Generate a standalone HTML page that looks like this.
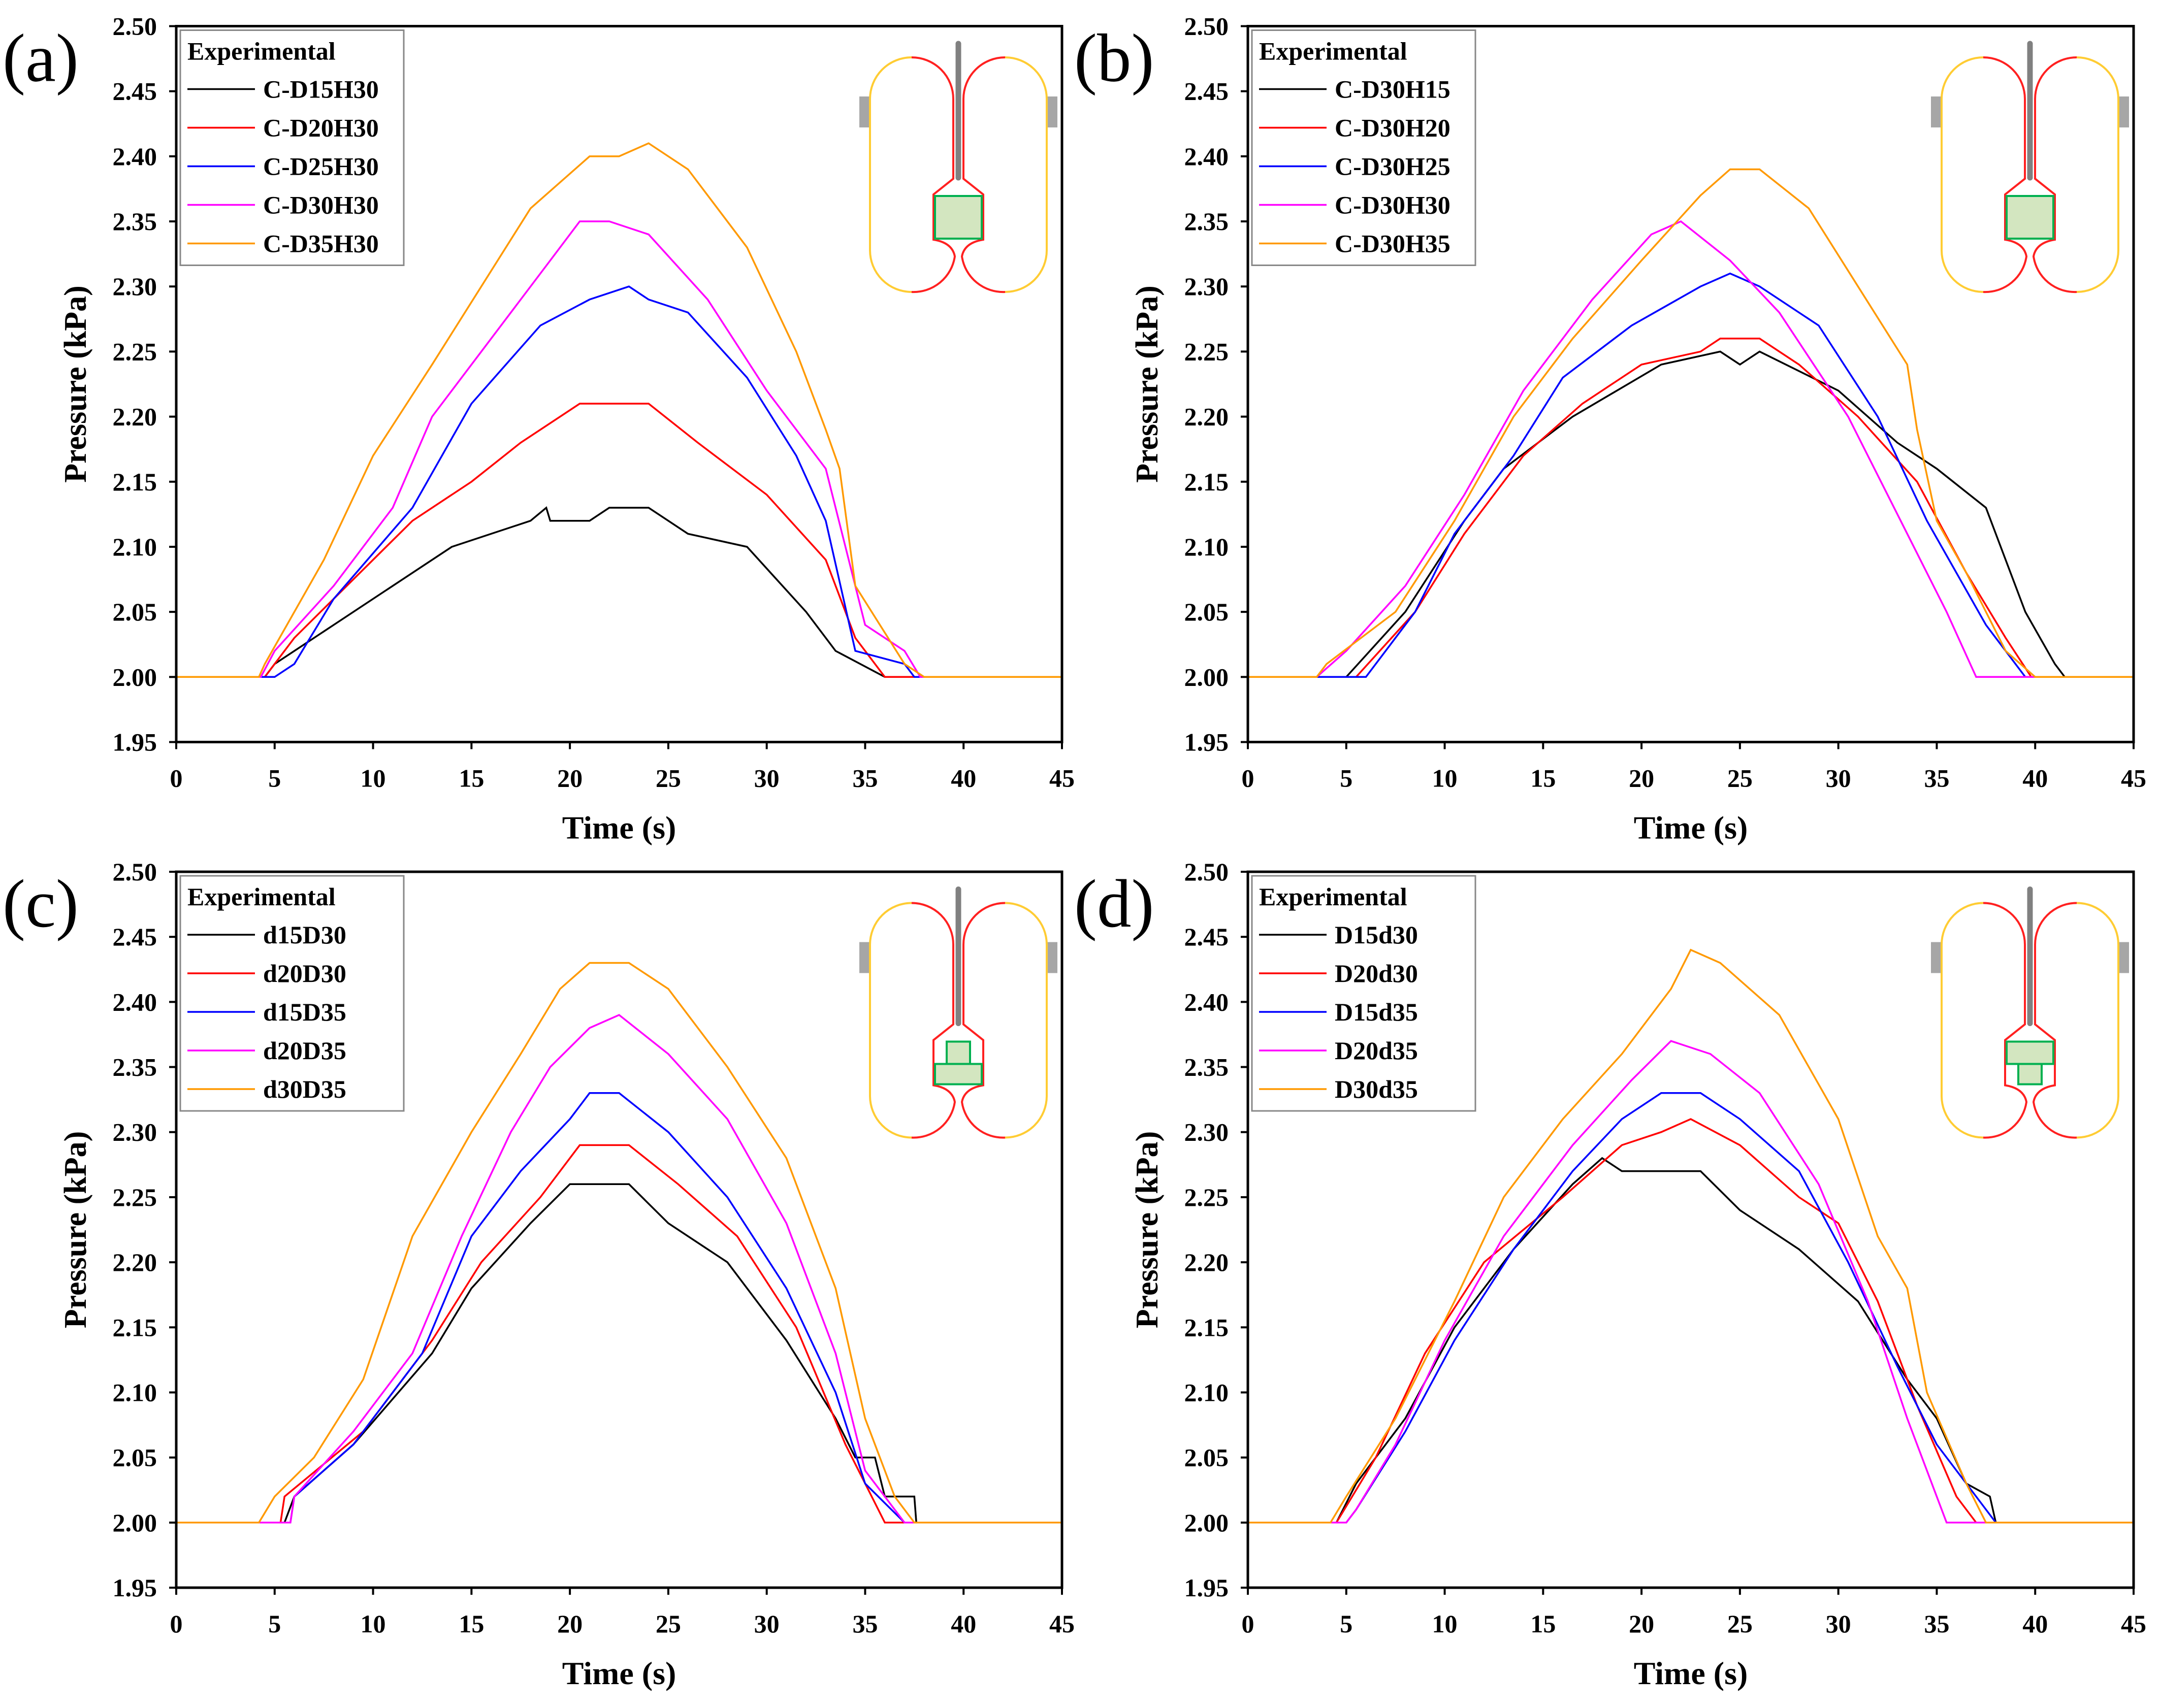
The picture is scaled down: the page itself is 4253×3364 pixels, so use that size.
<!DOCTYPE html>
<html><head><meta charset="utf-8">
<style>
html,body{margin:0;padding:0;background:#fff;}
svg{display:block;font-family:"Liberation Serif","DejaVu Serif",serif;}
</style></head>
<body>
<svg id="fig" width="4253" height="3364" viewBox="0 0 4253 3364" xmlns="http://www.w3.org/2000/svg"></svg>
<script>
const xTicks=[0,5,10,15,20,25,30,35,40,45];
const yTicks=[1.95,2.00,2.05,2.10,2.15,2.20,2.25,2.30,2.35,2.40,2.45,2.50];
const colors=["#000000","#ff0000","#0000ff","#ff00ff","#ff9900"];
const panelLetters=["(a)","(b)","(c)","(d)"];
const namesA=["C-D15H30","C-D20H30","C-D25H30","C-D30H30","C-D35H30"];
const namesB=["C-D30H15","C-D30H20","C-D30H25","C-D30H30","C-D30H35"];
const namesC=["d15D30","d20D30","d15D35","d20D35","d30D35"];
const namesD=["D15d30","D20d30","D15d35","D20d35","D30d35"];
const dataA=[
[[0,2],[4.5,2],[5,2.01],[8,2.04],[14,2.10],[18,2.12],[18.8,2.13],[19,2.12],[21,2.12],[22,2.13],[24,2.13],[26,2.11],[29,2.10],[32,2.05],[33.5,2.02],[36,2.0],[45,2]],
[[0,2],[4.5,2],[6,2.03],[8,2.06],[12,2.12],[15,2.15],[17.5,2.18],[20.5,2.21],[24,2.21],[26.5,2.18],[30,2.14],[33,2.09],[34.5,2.03],[36,2.0],[45,2]],
[[0,2],[5,2],[6,2.01],[8,2.06],[12,2.13],[15,2.21],[18.5,2.27],[21,2.29],[23,2.30],[24,2.29],[26,2.28],[29,2.23],[31.5,2.17],[33,2.12],[34.5,2.02],[37,2.01],[37.5,2],[45,2]],
[[0,2],[4.3,2],[5,2.02],[8,2.07],[11,2.13],[13,2.20],[16,2.26],[19,2.32],[20.5,2.35],[22,2.35],[24,2.34],[27,2.29],[30,2.22],[33,2.16],[35,2.04],[37,2.02],[37.8,2],[45,2]],
[[0,2],[4.2,2],[4.5,2.01],[7.5,2.09],[10,2.17],[13,2.24],[15.5,2.30],[18,2.36],[21,2.40],[22.5,2.40],[24,2.41],[26,2.39],[29,2.33],[31.5,2.25],[33,2.19],[33.7,2.16],[34.5,2.07],[37,2.01],[38,2],[45,2]]];
const dataB=[
[[0,2],[5,2],[8,2.05],[11,2.12],[13,2.16],[16.5,2.20],[21,2.24],[24,2.25],[25,2.24],[26,2.25],[30,2.22],[33,2.18],[35,2.16],[37.5,2.13],[39.5,2.05],[41,2.01],[41.5,2],[45,2]],
[[0,2],[5.5,2],[8.5,2.05],[11,2.11],[14,2.17],[17,2.21],[20,2.24],[23,2.25],[24,2.26],[26,2.26],[28,2.24],[31,2.20],[34,2.15],[36.5,2.08],[38.5,2.03],[39.8,2],[45,2]],
[[0,2],[6,2],[8.5,2.05],[10.5,2.11],[13.5,2.17],[16,2.23],[19.5,2.27],[23,2.30],[24.5,2.31],[26,2.30],[29,2.27],[32,2.20],[34.5,2.12],[37.5,2.04],[39.5,2],[45,2]],
[[0,2],[3.5,2],[5,2.02],[8,2.07],[11,2.14],[14,2.22],[17.5,2.29],[20.5,2.34],[22,2.35],[24.5,2.32],[27,2.28],[30.5,2.20],[33.5,2.11],[35.5,2.05],[37,2],[45,2]],
[[0,2],[3.5,2],[4,2.01],[7.5,2.05],[10.5,2.12],[13.5,2.20],[16.5,2.26],[20,2.32],[23,2.37],[24.5,2.39],[26,2.39],[28.5,2.36],[31,2.30],[33.5,2.24],[34,2.19],[35,2.12],[36.5,2.08],[38.5,2.02],[40,2],[45,2]]];
const dataC=[
[[0,2],[5.5,2],[6,2.02],[9,2.06],[13,2.13],[15,2.18],[18,2.23],[20,2.26],[23,2.26],[25,2.23],[28,2.20],[31,2.14],[33.5,2.08],[34.5,2.05],[35.5,2.05],[36,2.02],[37.5,2.02],[37.6,2],[45,2]],
[[0,2],[5.3,2],[5.5,2.02],[9.5,2.07],[13,2.14],[15.5,2.20],[18.5,2.25],[20.5,2.29],[23,2.29],[25.5,2.26],[28.5,2.22],[31.5,2.15],[34,2.06],[36,2.0],[45,2]],
[[0,2],[5.8,2],[6,2.02],[9,2.06],[12.5,2.13],[15,2.22],[17.5,2.27],[20,2.31],[21,2.33],[22.5,2.33],[25,2.30],[28,2.25],[31,2.18],[33.5,2.10],[35,2.03],[37,2],[45,2]],
[[0,2],[5.8,2],[6,2.02],[9,2.07],[12,2.13],[14.5,2.22],[17,2.30],[19,2.35],[21,2.38],[22.5,2.39],[25,2.36],[28,2.31],[31,2.23],[33.5,2.13],[35,2.04],[37,2],[45,2]],
[[0,2],[4.2,2],[5,2.02],[7,2.05],[9.5,2.11],[12,2.22],[15,2.30],[17.5,2.36],[19.5,2.41],[21,2.43],[23,2.43],[25,2.41],[28,2.35],[31,2.28],[33.5,2.18],[35,2.08],[36.5,2.02],[37.5,2],[45,2]]];
const dataD=[
[[0,2],[4.5,2],[5.5,2.03],[8,2.08],[10.5,2.15],[13.5,2.21],[16.5,2.26],[18,2.28],[19,2.27],[23,2.27],[25,2.24],[28,2.21],[31,2.17],[33.5,2.11],[35,2.08],[36.5,2.03],[37.7,2.02],[38,2],[45,2]],
[[0,2],[4.5,2],[6.5,2.05],[9,2.13],[12,2.20],[16,2.25],[19,2.29],[21,2.30],[22.5,2.31],[25,2.29],[28,2.25],[30,2.23],[32,2.17],[34,2.09],[36,2.02],[37,2],[45,2]],
[[0,2],[5,2],[5.5,2.01],[8,2.07],[10.5,2.14],[13.5,2.21],[16.5,2.27],[19,2.31],[21,2.33],[23,2.33],[25,2.31],[28,2.27],[30.5,2.20],[33,2.12],[35,2.06],[37,2.02],[38,2],[45,2]],
[[0,2],[5,2],[5.5,2.01],[7.5,2.06],[10,2.14],[13,2.22],[16.5,2.29],[19.5,2.34],[21.5,2.37],[23.5,2.36],[26,2.33],[29,2.26],[31.5,2.17],[33.5,2.08],[35,2.02],[35.5,2],[45,2]],
[[0,2],[4.2,2],[5,2.02],[7.5,2.08],[10.5,2.17],[13,2.25],[16,2.31],[19,2.36],[21.5,2.41],[22.5,2.44],[24,2.43],[27,2.39],[30,2.31],[32,2.22],[33.5,2.18],[34.5,2.10],[36.5,2.03],[37.5,2],[45,2]]];

const NS="http://www.w3.org/2000/svg";
const svg=document.getElementById('fig');
function mk(tag,attrs,parent){const e=document.createElementNS(NS,tag);for(const k in attrs)e.setAttribute(k,attrs[k]);(parent||svg).appendChild(e);return e;}

const panels=[
 {L:347,T:51.5,names:namesA,data:dataA,box:"single"},
 {L:2457,T:51.5,names:namesB,data:dataB,box:"single"},
 {L:347,T:1717,names:namesC,data:dataC,box:"c"},
 {L:2457,T:1717,names:namesD,data:dataD,box:"d"}];
const W=1744,H=1410;

panels.forEach((p,pi)=>{
 const g=mk('g',{});
 
 
 const xs=t=>p.L+t/45*W;
 const ys=v=>p.T+(2.50-v)/0.55*H;
 const lt=mk('text',{x:p.L-342,y:p.T+108,'font-size':135},g);
 lt.textContent=panelLetters[pi];
 
 
 xTicks.forEach(t=>{
  mk('line',{x1:xs(t),x2:xs(t),y1:p.T+H,y2:p.T+H+14,stroke:'#000','stroke-width':4},g);
  const tx=mk('text',{x:xs(t),y:p.T+H+88,'font-size':50,'font-weight':'bold','text-anchor':'middle'},g);
  tx.textContent=t;
  
  
 });
 yTicks.forEach(v=>{
  mk('line',{x1:p.L-14,x2:p.L,y1:ys(v),y2:ys(v),stroke:'#000','stroke-width':4},g);
  const ty=mk('text',{x:p.L-38,y:ys(v)+17,'font-size':50,'font-weight':'bold','text-anchor':'end'},g);
  ty.textContent=v.toFixed(2);
  
  
 });
 const xt=mk('text',{x:p.L+W/2,y:p.T+H+190,'font-size':64,'font-weight':'bold','text-anchor':'middle'},g);
 xt.textContent='Time (s)';
 
 
 const yt=mk('text',{x:0,y:0,'font-size':62,'font-weight':'bold','text-anchor':'middle',transform:`translate(${p.L-178},${p.T+H/2}) rotate(-90)`},g);
 yt.textContent='Pressure (kPa)';
 
 
 p.data.forEach((s,si)=>{
  const pts=s.map(d=>xs(d[0]).toFixed(1)+','+ys(d[1]).toFixed(1)).join(' ');
  const pl=mk('polyline',{points:pts,fill:'none',stroke:colors[si],'stroke-width':3.5,'stroke-linejoin':'miter'},g);
  
  
 });
 const fr=mk('rect',{x:p.L,y:p.T,width:W,height:H,fill:'none',stroke:'#000','stroke-width':5},g);
 
 
 const lg=mk('g',{},g);
 
 
 mk('rect',{x:p.L+8,y:p.T+8,width:440,height:463,fill:'#fff',stroke:'#888','stroke-width':3},lg);
 const lh=mk('text',{x:p.L+22,y:p.T+66,'font-size':50,'font-weight':'bold'},lg);
 lh.textContent='Experimental';
 p.names.forEach((n,i)=>{
  const y=p.T+124+i*76;
  const ent=mk('g',{},lg);
  
  
  mk('line',{x1:p.L+22,x2:p.L+155,y1:y,y2:y,stroke:colors[i],'stroke-width':3.5},ent);
  const tx=mk('text',{x:p.L+171,y:y+17,'font-size':50,'font-weight':'bold'},ent);
  tx.textContent=n;
 });
 const ig=mk('g',{transform:`translate(${p.L-347},${p.T-51.5})`},g);
 
 
 const Y='#ffcc33',R='#ff2020';
 mk('rect',{x:1692,y:190,width:22,height:61,fill:'#a6a6a6'},ig);
 mk('rect',{x:2060,y:190,width:22,height:61,fill:'#a6a6a6'},ig);
 mk('path',{d:'M1795,113 A82,82 0 0 0 1713,195 L1713,493 A82,82 0 0 0 1795,575',fill:'none',stroke:Y,'stroke-width':4},ig);
 mk('path',{d:'M1979,113 A82,82 0 0 1 2061,195 L2061,493 A82,82 0 0 1 1979,575',fill:'none',stroke:Y,'stroke-width':4},ig);
 mk('path',{d:'M1795,113 A82,82 0 0 1 1877,195 L1877,352 L1838,383 L1838,472 Q1875,478 1880,505 A82,82 0 0 1 1795,575',fill:'none',stroke:R,'stroke-width':4},ig);
 mk('path',{d:'M1979,113 A82,82 0 0 0 1897,195 L1897,352 L1936,383 L1936,472 Q1899,478 1894,505 A82,82 0 0 0 1979,575',fill:'none',stroke:R,'stroke-width':4},ig);
 mk('line',{x1:1887,x2:1887,y1:86,y2:350,stroke:'#808080','stroke-width':11,'stroke-linecap':'round'},ig);
 const gf='#d3e6c0',gs='#00b050';
 if(p.box==='single'){
  mk('rect',{x:1841,y:386,width:92,height:84,fill:gf,stroke:gs,'stroke-width':4},ig);
 } else if(p.box==='c'){
  mk('rect',{x:1864,y:386,width:46,height:44,fill:gf,stroke:gs,'stroke-width':4},ig);
  mk('rect',{x:1841,y:430,width:92,height:40,fill:gf,stroke:gs,'stroke-width':4},ig);
 } else {
  mk('rect',{x:1841,y:386,width:92,height:44,fill:gf,stroke:gs,'stroke-width':4},ig);
  mk('rect',{x:1864,y:430,width:46,height:40,fill:gf,stroke:gs,'stroke-width':4},ig);
 }
});
</script>
</body></html>
